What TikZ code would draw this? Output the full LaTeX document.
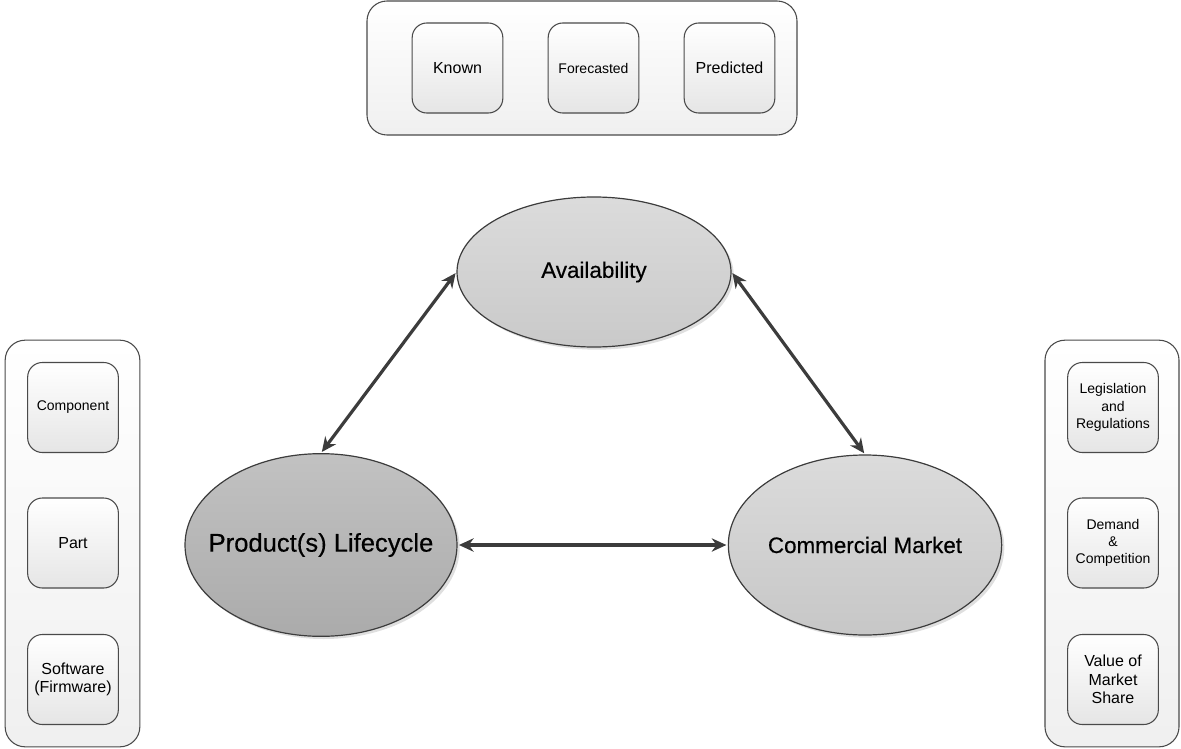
\documentclass[tikz,border=0pt]{standalone}
\usepackage{fontspec}
\setmainfont{Liberation Sans}
\newfontfamily\topicfont[FakeBold=0.4]{Liberation Sans}
\usetikzlibrary{shapes.geometric,arrows.meta,shadows}
\definecolor{edge}{HTML}{4A4A4A}
\definecolor{arrowgray}{HTML}{3C3C3C}
\begin{document}
\begin{tikzpicture}[x=0.75pt,y=-0.75pt,
  container/.style={draw=edge,line width=0.8pt,rounded corners=15pt,
    top color=white,bottom color=black!6,inner sep=0pt},
  itembox/.style={draw=edge,line width=0.8pt,rounded corners=11pt,
    top color=white,bottom color=black!10,
    minimum width=68pt,minimum height=67.5pt,inner sep=1pt,
    align=center,font=\fontsize{10.5}{13}\selectfont},
  bigitem/.style={itembox,font=\fontsize{12}{14}\selectfont},
  topic/.style={ellipse,draw=arrowgray,line width=0.9pt,inner sep=0pt,
    drop shadow={opacity=0.25,shadow xshift=2pt,shadow yshift=-2pt}},
  link/.style={{Stealth[length=11pt,width=10pt]}-{Stealth[length=11pt,width=10pt]},
    draw=arrowgray,line width=2.4pt,shorten <=1pt,shorten >=1pt}]
\useasboundingbox (0,0) rectangle (1181,749);

% outer groups
\node[container,minimum width=322.5pt,minimum height=100.5pt] (timing) at (582,68) {};
\node[container,minimum width=101pt,minimum height=305pt] (levels) at (72.5,543.5) {};
\node[container,minimum width=100.5pt,minimum height=305pt] (drivers) at (1112,543.5) {};

% kind of information
\node[bigitem] (known) at (457.5,68) {Known};
\node[itembox] (forecast) at (593.5,68) {Forecasted};
\node[bigitem] (predicted) at (729.5,68) {Predicted};

% product levels
\node[itembox] (component) at (73,407.5) {Component};
\node[bigitem] (part) at (73,543) {Part};
\node[bigitem] (software) at (73,679.5) {Software\\(Firmware)};

% market drivers
\node[itembox] (legislation) at (1113,407.5) {Legislation\\and\\Regulations};
\node[itembox] (demand) at (1113,543) {Demand\\\&\\Competition};
\node[bigitem] (value) at (1113,679.5) {Value of\\Market\\Share};

% main topics (labels kept apart so they do not widen the ellipses)
\node[topic,top color=black!14,bottom color=black!21,
  minimum width=205.5pt,minimum height=112.5pt,
  label={[font=\topicfont\fontsize{16.8}{19}\selectfont]center:Availability}] (avail) at (594,272) {};
\node[topic,top color=black!24,bottom color=black!33,
  minimum width=204pt,minimum height=137pt,
  label={[font=\topicfont\fontsize{19.2}{22}\selectfont]center:Product(s) Lifecycle}] (product) at (321,545) {};
\node[topic,top color=black!14,bottom color=black!22,
  minimum width=205pt,minimum height=135pt,
  label={[font=\topicfont\fontsize{16.8}{20}\selectfont]center:Commercial Market}] (market) at (865,545) {};

% relations
\draw[link] (avail.west) -- (product.north);
\draw[link] (avail.east) -- (market.north);
\draw[link] (product.east) -- (market.west);
\end{tikzpicture}
\end{document}
